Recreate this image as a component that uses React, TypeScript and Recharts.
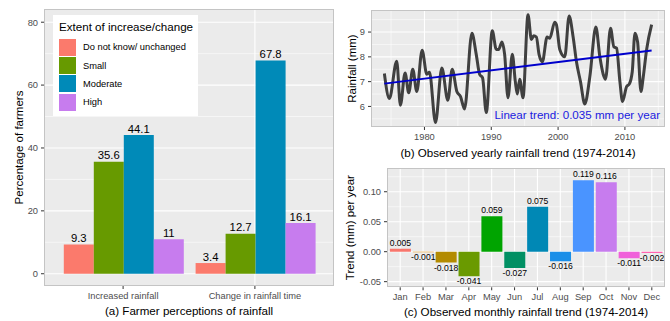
import React from 'react';
import {
  BarChart, Bar, LineChart, Line, XAxis, YAxis, CartesianGrid,
  LabelList, Label, Legend, Cell,
} from 'recharts';

// ---------- Panel (a): farmer perceptions ----------
const perceptionCategories = ['Increased rainfall', 'Change in rainfall time'];
const dontKnowValues = [9.3, 3.4];
const smallValues = [35.6, 12.7];
const moderateValues = [44.1, 67.8];
const highValues = [11, 16.1];
const seriesNames = ['Do not know/ unchanged', 'Small', 'Moderate', 'High'];
const seriesColors = ['#FB7A6C', '#679A00', '#008AB8', '#C77CEE'];
const perceptionTicks = [0, 20, 40, 60, 80];
const perceptionMinorTicks = [10, 30, 50, 70];

// ---------- Panel (b): yearly rainfall ----------
const rainYears = [
  1974.0, 1974.75, 1975.85, 1976.4, 1977.1, 1977.65, 1978.25, 1978.85, 1979.65, 1980.35,
  1980.75, 1981.65, 1982.6, 1983.5, 1984.15, 1984.85, 1985.4, 1986.0, 1987.1, 1987.75,
  1988.25, 1988.7, 1989.25, 1990.15, 1990.75, 1991.1, 1991.6, 1992.0, 1992.5, 1993.15,
  1993.6, 1993.9, 1994.25, 1994.75, 1995.5, 1996.0, 1996.35, 1996.75, 1997.15, 1997.65,
  1998.35, 1998.75, 1999.5, 1999.75, 2000.25, 2001.0, 2001.65, 2002.25, 2002.75, 2003.35,
  2004.0, 2004.75, 2005.65, 2006.25, 2006.75, 2007.1, 2007.85, 2008.35, 2008.75, 2009.25,
  2009.65, 2010.25, 2010.65, 2011.1, 2011.5, 2011.9, 2012.4, 2012.75, 2013.25, 2014.0,
];
const rainValues = [
  7.33, 6.32, 7.82, 6.05, 7.35, 6.55, 7.5, 6.6, 8.27, 7.3,
  7.38, 5.35, 7.55, 6.25, 7.5, 6.6, 6.4, 5.9, 8.95, 8.1,
  7.3, 7.15, 5.75, 9.05, 8.3, 8.3, 8.6, 8.1, 6.35, 8.1,
  7.0, 6.5, 7.1, 6.35, 9.7, 8.7, 8.85, 8.8, 8.1, 7.8,
  8.8, 8.75, 9.4, 9.3, 8.3, 8.0, 9.65, 8.8, 7.8, 7.0,
  6.1, 7.2, 9.2, 8.0, 7.3, 7.1, 9.15, 8.4, 8.35, 7.0,
  6.2, 6.8, 6.9, 7.4, 8.95, 8.6, 6.6, 7.2, 8.3, 9.3,
];
const trendYears = [1974, 2014];
const trendValues = [6.92, 8.26];
const trendText = 'Linear trend: 0.035 mm per year';
const yearTicks = [1980, 1990, 2000, 2010];
const yearMinorTicks = [1975, 1985, 1995, 2005, 2015];
const rainTicks = [6, 7, 8, 9];
const rainMinorTicks = [5.5, 6.5, 7.5, 8.5, 9.5];

// ---------- Panel (c): monthly trend ----------
const months = ['Jan', 'Feb', 'Mar', 'Apr', 'May', 'Jun', 'Jul', 'Aug', 'Sep', 'Oct', 'Nov', 'Dec'];
const monthlyTrend = [0.005, -0.001, -0.018, -0.041, 0.059, -0.027, 0.075, -0.016, 0.119, 0.116, -0.011, -0.002];
const monthColors = [
  '#F8766D', '#DE8C00', '#B38B00', '#6A9A00', '#00A400', '#009063',
  '#0088B5', '#1A8FE8', '#4A94FF', '#C77CEE', '#F060DA', '#FF64B0',
];
const trendTicks = [-0.05, 0, 0.05, 0.1];
const trendMinorTicks = [-0.025, 0.025, 0.075, 0.125];

const FONT = '"Liberation Sans", Arial, Helvetica, sans-serif';
const TICK = { fontSize: 9.3, fill: '#4D4D4D', fontFamily: FONT };
const TICKLINE = { stroke: '#333333' };
const GRID_BG = '#EBEBEB';

const perceptionData = perceptionCategories.map((c, i) => ({
  category: c,
  dontKnow: dontKnowValues[i],
  small: smallValues[i],
  moderate: moderateValues[i],
  high: highValues[i],
}));
const rainData = rainYears.map((y, i) => ({ year: y, rain: rainValues[i] }));
const trendData = trendYears.map((y, i) => ({ year: y, rain: trendValues[i] }));
const monthData = months.map((m, i) => ({ month: m, trend: monthlyTrend[i] }));

const applyScale = (axis: any, v: number) => {
  const s = axis && axis.scale;
  if (typeof s === 'function') return s(v);
  if (s && typeof s.map === 'function') return s.map(v);
  return 0;
};
const minorY = (vals: number[]) => ({ yAxis }: any) => vals.map((v) => applyScale(yAxis, v));
const minorX = (vals: number[]) => ({ xAxis }: any) => vals.map((v) => applyScale(xAxis, v));

const yTitle = (x: number, text: string) => (props: any) => {
  const vb = props.viewBox || {};
  const cy = vb.y + vb.height / 2;
  return (
    <text x={x} y={cy} transform={`rotate(-90 ${x} ${cy})`} textAnchor="middle"
      dominantBaseline="central" fontSize={11.5} fill="#000" fontFamily={FONT}>{text}</text>
  );
};
const caption = (cyy: number, text: string) => (props: any) => {
  const vb = props.viewBox || {};
  return (
    <text x={vb.x + vb.width / 2} y={cyy} textAnchor="middle" dominantBaseline="central"
      fontSize={11.6} fill="#000" fontFamily={FONT}>{text}</text>
  );
};

const barValueLabel = (props: any) => {
  const { x, y, width, value } = props;
  return (
    <text x={x + width / 2} y={y - 2.5} textAnchor="middle" fontSize={11.3}
      fill="#000" fontFamily={FONT}>{String(value)}</text>
  );
};

const monthValueLabel = (props: any) => {
  const { x, y, width, height, value } = props;
  const top = Math.min(y, y + height);
  const bottom = Math.max(y, y + height);
  const ty = value >= 0 ? top - 3 : bottom + 8.2;
  return (
    <text x={x + width / 2} y={ty} textAnchor="middle" fontSize={8.6}
      fill="#000" fontFamily={FONT}>{Number(value).toFixed(3)}</text>
  );
};

const legendContent = () => (
  <div style={{
    background: '#fff', width: 145, height: 101, boxSizing: 'border-box',
    paddingLeft: 6, paddingTop: 4, fontFamily: FONT,
  }}>
    <div style={{ fontSize: 11.6, color: '#000', height: 19, lineHeight: '16px' }}>Extent of increase/change</div>
    {seriesNames.map((n, i) => (
      <div key={n} style={{ display: 'flex', alignItems: 'center', height: 18.4 }}>
        <div style={{ width: 17, height: 17, background: seriesColors[i], marginRight: 7 }} />
        <span style={{ fontSize: 9.3, color: '#000' }}>{n}</span>
      </div>
    ))}
  </div>
);

const frame = (left: number, top: number, width: number, height: number) => (
  <div style={{
    position: 'absolute', left, top, width, height, boxSizing: 'border-box',
    border: '1px solid #C4C4C4', pointerEvents: 'none',
  }} />
);

export default function App() {
  return (
    <div style={{ position: 'absolute', left: 0, top: 0, width: 670, height: 321, background: '#fff', fontFamily: FONT }}>
      {/* Panel (a) */}
      <div style={{ position: 'absolute', left: 0, top: 0 }}>
        <BarChart width={340} height={321} data={perceptionData}
          margin={{ top: 9, right: 6, bottom: 0, left: 0 }} barGap={0} barCategoryGap={6.6}>
          <CartesianGrid fill={GRID_BG} stroke="#FFFFFF" strokeWidth={1.1} />
          <CartesianGrid vertical={false} fill="none" stroke="#FFFFFF" strokeWidth={0.55}
            horizontalCoordinatesGenerator={minorY(perceptionMinorTicks)} />
          <XAxis dataKey="category" padding={{ left: 13.2, right: 13.2 }} height={35}
            tick={TICK} tickLine={TICKLINE} tickSize={3} tickMargin={3} axisLine={false}>
            <Label content={caption(310, '(a) Farmer perceptions of rainfall')} />
          </XAxis>
          <YAxis domain={[-3.9, 84.2]} ticks={perceptionTicks} allowDataOverflow width={44}
            tick={TICK} tickLine={TICKLINE} tickSize={3} tickMargin={3} axisLine={false}>
            <Label content={yTitle(19, 'Percentage of farmers')} />
          </YAxis>
          <Legend layout="vertical" align="center" verticalAlign="middle" content={legendContent}
            wrapperStyle={{ left: 53, top: 15, width: 145, height: 101 }} />
          <Bar dataKey="dontKnow" name={seriesNames[0]} fill={seriesColors[0]} isAnimationActive={false}>
            <LabelList dataKey="dontKnow" content={barValueLabel} />
          </Bar>
          <Bar dataKey="small" name={seriesNames[1]} fill={seriesColors[1]} isAnimationActive={false}>
            <LabelList dataKey="small" content={barValueLabel} />
          </Bar>
          <Bar dataKey="moderate" name={seriesNames[2]} fill={seriesColors[2]} isAnimationActive={false}>
            <LabelList dataKey="moderate" content={barValueLabel} />
          </Bar>
          <Bar dataKey="high" name={seriesNames[3]} fill={seriesColors[3]} isAnimationActive={false}>
            <LabelList dataKey="high" content={barValueLabel} />
          </Bar>
        </BarChart>
      </div>
      {frame(44, 9, 290, 277)}

      {/* Panel (b) */}
      <div style={{ position: 'absolute', left: 340, top: 0 }}>
        <LineChart width={330} height={160} margin={{ top: 10, right: 5, bottom: 0, left: 0 }}>
          <CartesianGrid fill={GRID_BG} stroke="#FFFFFF" strokeWidth={1.1} />
          <CartesianGrid fill="none" stroke="#FFFFFF" strokeWidth={0.55}
            horizontalCoordinatesGenerator={minorY(rainMinorTicks)}
            verticalCoordinatesGenerator={minorX(yearMinorTicks)} />
          <XAxis type="number" dataKey="year" domain={[1972, 2016]} ticks={yearTicks} allowDataOverflow
            height={33} tick={TICK} tickLine={TICKLINE} tickSize={3} tickMargin={3} axisLine={false}>
            <Label content={caption(152, '(b) Observed yearly rainfall trend (1974-2014)')} />
            <Label content={() => (
              <text x={320} y={114} textAnchor="end" dominantBaseline="central" fontSize={11.6}
                fill="#1A1AE0" fontFamily={FONT}>{trendText}</text>
            )} />
          </XAxis>
          <YAxis type="number" domain={[5.17, 9.89]} ticks={rainTicks} allowDataOverflow width={31}
            tick={TICK} tickLine={TICKLINE} tickSize={3} tickMargin={3} axisLine={false}>
            <Label content={yTitle(12, 'Rainfall (mm)')} />
          </YAxis>
          <Line data={rainData} dataKey="rain" type="monotone" stroke="#404040" strokeWidth={3}
            dot={false} isAnimationActive={false} />
          <Line data={trendData} dataKey="rain" type="linear" stroke="#0000CC" strokeWidth={2}
            dot={false} isAnimationActive={false} />
        </LineChart>
      </div>
      {frame(371, 10, 294, 117)}

      {/* Panel (c) */}
      <div style={{ position: 'absolute', left: 340, top: 160 }}>
        <BarChart width={330} height={161} data={monthData}
          margin={{ top: 8, right: 5, bottom: 0, left: 0 }} barCategoryGap={1.15}>
          <CartesianGrid fill={GRID_BG} stroke="#FFFFFF" strokeWidth={1.1} />
          <CartesianGrid vertical={false} fill="none" stroke="#FFFFFF" strokeWidth={0.55}
            horizontalCoordinatesGenerator={minorY(trendMinorTicks)} />
          <XAxis dataKey="month" padding={{ left: 1.75, right: 1.75 }} height={33.7}
            tick={TICK} tickLine={TICKLINE} tickSize={3} tickMargin={3} axisLine={false} interval={0}>
            <Label content={caption(151.7, '(c) Observed monthly rainfall trend (1974-2014)')} />
          </XAxis>
          <YAxis domain={[-0.0594, 0.1396]} ticks={trendTicks} allowDataOverflow width={47}
            tickFormatter={(v: number) => v.toFixed(2)}
            tick={TICK} tickLine={TICKLINE} tickSize={3} tickMargin={3} axisLine={false}>
            <Label content={yTitle(10, 'Trend (mm) per year')} />
          </YAxis>
          <Bar dataKey="trend" isAnimationActive={false}>
            {months.map((m, i) => (
              <Cell key={m} fill={monthColors[i]} />
            ))}
            <LabelList dataKey="trend" content={monthValueLabel} />
          </Bar>
        </BarChart>
      </div>
      {frame(387, 168, 278, 119)}
    </div>
  );
}
